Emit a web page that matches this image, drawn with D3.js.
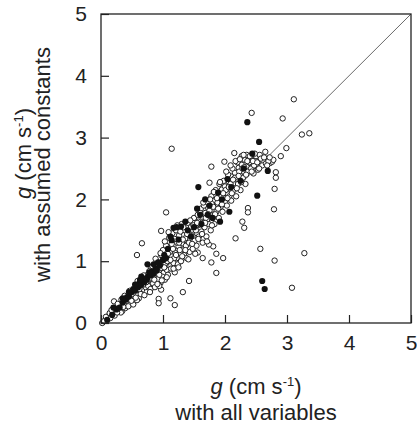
<!DOCTYPE html>
<html>
<head>
<meta charset="utf-8">
<script src="https://cdn.jsdelivr.net/npm/d3@7"></script>
<style>
  body { margin: 0; background: #fff; }
  text { font-family: "Liberation Sans", Arial, sans-serif; fill: #222; }
</style>
</head>
<body>
<script>
const width = 417;
const height = 430;
const margin = {top:14, right:6, bottom:107, left:101};

// axis ticks
const xTicks = [0, 1, 2, 3, 4, 5];
const yTicks = [0, 1, 2, 3, 4, 5];

// open circles: [with all variables, with assumed constants]
const openPoints = [
  [3.11,3.62],[2.93,3.31],[3.24,3.05],[3.36,3.07],[2.43,3.40],[1.14,2.82],[2.99,2.83],[2.90,2.70],
  [2.82,2.44],[2.82,2.35],[2.80,2.17],[2.79,1.84],[2.57,1.20],[2.80,1.01],[3.28,1.13],[3.08,0.57],
  [2.37,1.86],[2.37,1.79],[2.28,1.64],[2.31,1.54],[2.17,1.37],[1.99,2.61],[1.78,2.53],[1.75,2.27],
  [2.15,2.75],[1.05,1.79],[0.97,1.49],[0.66,1.29],[0.58,1.10],[1.97,1.05],[1.86,1.12],[1.81,1.24],
  [1.74,1.27],[1.64,1.05],[1.78,0.98],[1.86,0.81],[1.56,1.14],[1.42,0.68],[1.32,0.50],[1.12,0.40],
  [1.19,0.29],[0.93,0.39],[0.93,0.32],[0.21,0.35],
  [0.02,0.00],[0.09,0.06],[0.12,0.11],[0.19,0.13],[0.23,0.19],[0.28,0.24],[0.34,0.19],[0.37,0.30],
  [0.39,0.24],[0.43,0.35],[0.47,0.30],[0.50,0.40],[0.53,0.35],[0.57,0.46],[0.61,0.40],[0.63,0.51],
  [0.66,0.59],[0.69,0.54],[0.71,0.65],[0.74,0.51],[0.77,0.70],[0.79,0.62],[0.82,0.73],[0.85,0.81],
  [0.88,0.67],[0.90,0.75],[0.93,0.84],[0.96,0.65],[0.97,0.54],[0.98,0.89],[1.01,0.81],[1.04,0.97],
  [1.06,0.86],[1.09,1.02],[1.12,0.92],[1.14,1.08],[1.17,0.97],[1.20,1.13],[1.22,1.05],[1.25,1.24],
  [1.28,1.13],[1.31,1.29],[1.33,1.19],[1.36,1.37],[1.39,1.27],[1.41,1.45],[1.44,1.35],[1.47,1.51],
  [1.49,1.40],[1.52,1.56],[1.55,1.45],[1.57,1.64],[1.60,1.51],[1.63,1.72],[1.65,1.62],[1.68,1.78],
  [1.71,1.67],[1.73,1.86],[1.76,1.75],[1.79,1.94],[1.82,1.83],[1.84,1.99],[1.87,1.89],[1.90,2.07],
  [1.92,1.97],[1.95,2.16],[1.98,2.05],[2.00,2.21],[2.03,2.10],[2.06,2.29],[2.08,2.18],[2.11,2.37],
  [2.14,2.26],[2.16,2.43],[2.19,2.32],[2.22,2.51],[2.24,2.40],[2.27,2.56],[2.30,2.45],[2.32,2.64],
  [2.35,2.53],[2.38,2.69],[2.41,2.59],[2.46,2.42],[2.49,2.64],[2.51,2.53],[2.54,2.69],[2.57,2.59],
  [2.62,2.61],[2.65,2.77],[2.73,2.59],[2.76,2.61],[2.78,2.64],
  [0.05,0.03],[0.15,0.08],[0.22,0.12],[0.30,0.28],[0.32,0.17],[0.41,0.38],[0.44,0.27],[0.48,0.45],
  [0.52,0.30],[0.55,0.52],[0.58,0.37],[0.60,0.60],[0.64,0.47],[0.67,0.70],[0.70,0.45],[0.72,0.58],
  [0.75,0.78],[0.76,0.60],[0.80,0.55],[0.81,0.88],[0.84,0.64],[0.86,0.93],[0.87,0.58],[0.89,0.80],
  [0.90,1.00],[0.92,0.71],[0.94,0.60],[0.95,0.95],[0.97,1.10],[0.99,0.75],[1.00,1.18],[1.02,0.90],
  [1.03,0.70],[1.05,1.25],[1.07,1.00],[1.08,0.78],[1.10,1.38],[1.11,1.15],[1.13,0.88],[1.15,1.45],
  [1.16,1.20],[1.18,1.05],[1.19,0.82],[1.21,1.50],[1.23,1.30],[1.24,0.95],[1.26,1.42],[1.27,1.18],
  [1.29,1.00],[1.30,1.60],[1.32,1.35],[1.34,1.10],[1.35,1.50],[1.37,1.25],[1.38,1.05],[1.40,1.62],
  [1.42,1.30],[1.43,1.15],[1.45,1.55],[1.46,1.40],[1.48,1.20],[1.50,1.70],[1.51,1.33],[1.53,1.50],
  [1.54,1.25],[1.56,1.75],[1.58,1.40],[1.59,1.60],[1.61,1.85],[1.62,1.48],[1.64,1.30],[1.66,1.90],
  [1.67,1.55],[1.69,1.70],[1.70,1.40],[1.72,1.95],[1.74,1.60],[1.75,1.82],[1.77,1.50],[1.78,2.05],
  [1.80,1.70],[1.81,1.88],[1.83,1.60],[1.85,2.15],[1.86,1.80],[1.88,1.95],[1.90,1.70],[1.91,2.25],
  [1.93,1.88],[1.94,2.05],[1.96,1.80],[1.98,2.30],[2.00,1.95],[2.01,2.15],[2.03,1.90],[2.05,2.40],
  [2.07,2.05],[2.09,2.25],[2.10,1.98],[2.12,2.50],[2.14,2.15],[2.16,2.35],[2.18,2.05],[2.20,2.60],
  [2.21,2.25],[2.23,2.45],[2.25,2.15],[2.27,2.70],[2.29,2.35],[2.31,2.52],[2.33,2.25],[2.35,2.72],
  [2.37,2.45],[2.39,2.60],[2.42,2.50],[2.44,2.72],[2.47,2.55],[2.50,2.70],[2.53,2.48],[2.56,2.72],
  [2.60,2.55],[2.66,2.58],[2.70,2.62],
  [0.08,0.10],[0.14,0.16],[0.17,0.21],[0.26,0.17],[0.27,0.31],[0.33,0.38],[0.36,0.26],[0.38,0.44],
  [0.46,0.52],[0.49,0.36],[0.51,0.47],[0.56,0.41],[0.59,0.68],[0.62,0.55],[0.68,0.62],[0.69,0.77],
  [0.73,0.66],[0.78,0.84],[0.79,0.50],[0.83,0.92],[0.86,0.70],[0.88,1.04],[0.91,0.63],[0.94,0.78],
  [0.96,1.13],[0.98,0.69],[1.01,1.02],[1.03,1.32],[1.06,0.74],[1.08,1.12],[1.09,1.47],[1.12,1.02],
  [1.14,1.28],[1.17,0.88],[1.19,1.36],[1.21,1.10],[1.23,1.58],[1.25,0.90],[1.26,1.30],[1.28,1.48],
  [1.31,1.08],[1.33,1.55],[1.36,1.18],[1.39,1.44],[1.41,1.03],[1.44,1.66],[1.47,1.28],[1.49,1.58],
  [1.52,1.12],[1.55,1.62],[1.57,1.36],[1.60,1.78],[1.63,1.44],[1.65,1.95],[1.68,1.62],[1.71,1.32],
  [1.73,1.76],[1.76,2.00],[1.79,1.58],[1.82,2.12],[1.84,1.76],[1.87,2.02],[1.89,1.85],[1.92,2.28],
  [1.95,1.92],[1.97,2.10],[2.02,2.45],[2.04,2.02],[2.06,2.20],[2.09,2.55],[2.11,2.10],[2.13,2.32],
  [2.17,2.62],[2.19,2.18],[2.22,2.38],[2.24,2.65],[2.26,2.28],[2.28,2.50],[2.30,2.72],[2.34,2.40],
  [2.36,2.62],[2.40,2.70],[2.43,2.45],[2.45,2.62],[2.48,2.74],[2.52,2.60],[2.55,2.50],[2.58,2.66],
  [2.63,2.68],[2.68,2.55],[2.72,2.68]
];

// filled circles
const filledPoints = [
  [2.36,3.25],[2.55,2.93],[2.44,2.74],[2.69,2.46],[2.52,2.06],[1.57,2.20],[1.68,2.00],[1.55,1.85],
  [2.60,0.68],[2.64,0.55],[2.04,2.33],[1.89,2.11],[1.36,1.64],[1.29,1.56],[1.17,1.54],[1.14,1.34],
  [2.07,1.80],[1.92,1.64],[2.25,2.30],[1.22,1.55],[1.12,1.40],[1.45,1.40],[1.50,1.55],[1.62,1.60],
  [1.72,1.75],[1.80,1.70],
  [0.10,0.05],[0.18,0.13],[0.25,0.22],[0.30,0.25],[0.35,0.33],[0.40,0.38],[0.42,0.42],[0.45,0.43],
  [0.50,0.50],[0.52,0.55],[0.55,0.53],[0.58,0.60],[0.60,0.58],[0.62,0.65],[0.65,0.62],[0.67,0.68],
  [0.70,0.66],[0.72,0.72],[0.74,0.70],[0.76,0.76],[0.80,0.77],[0.82,0.83],[0.85,0.80],[0.88,0.88],
  [0.90,0.85],[0.95,0.93],[1.00,1.02],[1.05,1.05],[0.75,0.95],[0.85,0.95],[0.65,0.75],[0.45,0.50],
  [1.02,1.10],[1.08,1.20],[1.25,1.35],[1.40,1.50],[1.60,1.75],[1.75,1.90],[1.95,2.00],[2.10,2.20],
  [2.30,2.50],[0.55,0.62],[0.68,0.72],[0.78,0.82],[0.63,0.70],[0.92,0.98],[0.35,0.40],[0.20,0.25]
];

const svg = d3.select("body").append("svg")
  .attr("width", width)
  .attr("height", height);

const x = d3.scaleLinear().domain([0,5]).range([margin.left, width-margin.right]);
const y = d3.scaleLinear().domain([0,5]).range([height-margin.bottom, margin.top]);

// 1:1 line
svg.append("line")
  .attr("x1", x(0)).attr("y1", y(0))
  .attr("x2", x(5)).attr("y2", y(5))
  .attr("stroke", "#444")
  .attr("stroke-width", 0.8);

svg.append("g")
  .selectAll("circle")
  .data(openPoints)
  .join("circle")
  .attr("cx", d=>x(d[0]))
  .attr("cy", d=>y(d[1]))
  .attr("r", 2.7)
  .attr("fill", "#fff")
  .attr("stroke", "#222")
  .attr("stroke-width", 1);

svg.append("g")
  .selectAll("circle")
  .data(filledPoints)
  .join("circle")
  .attr("cx", d=>x(d[0]))
  .attr("cy", d=>y(d[1]))
  .attr("r", 3.1)
  .attr("fill", "#111");

// axes, ticks pointing inward
const xAxis = svg.append("g")
  .attr("transform", `translate(0,${y(0)})`)
  .call(d3.axisBottom(x).tickValues(xTicks).tickSize(-8).tickPadding(12).tickFormat(d3.format("d")));
const yAxis = svg.append("g")
  .attr("transform", `translate(${x(0)},0)`)
  .call(d3.axisLeft(y).tickValues(yTicks).tickSize(-8).tickPadding(14).tickFormat(d3.format("d")));

[xAxis, yAxis].forEach(a => {
  a.select(".domain").remove();
  a.selectAll("line").attr("stroke", "#222").attr("stroke-width", 1.2);
  a.selectAll("text")
    .style("font-family", "'Liberation Sans', Arial, sans-serif")
    .style("font-size", "21px")
    .attr("fill", "#222");
});

// frame
svg.append("rect")
  .attr("x", x(0)).attr("y", y(5))
  .attr("width", x(5)-x(0)).attr("height", y(0)-y(5))
  .attr("fill", "none")
  .attr("stroke", "#222")
  .attr("stroke-width", 1.3);

function unitLabel(sel) {
  sel.append("tspan").attr("font-style", "italic").text("g");
  sel.append("tspan").text(" (cm s");
  sel.append("tspan").attr("font-size", "13px").attr("dy", "-8").text("-1");
  sel.append("tspan").attr("dy", "8").text(")");
}

const cx = (x(0)+x(5))/2;
svg.append("text")
  .attr("x", cx).attr("y", 394)
  .attr("text-anchor", "middle")
  .attr("font-size", "22px")
  .call(unitLabel);
svg.append("text")
  .attr("x", cx).attr("y", 420)
  .attr("text-anchor", "middle")
  .attr("font-size", "22px")
  .text("with all variables");

const cy = (y(0)+y(5))/2;
svg.append("text")
  .attr("transform", `translate(31,${cy-15}) rotate(-90)`)
  .attr("text-anchor", "middle")
  .attr("font-size", "22px")
  .call(unitLabel);
svg.append("text")
  .attr("transform", `translate(50,${cy-4}) rotate(-90)`)
  .attr("text-anchor", "middle")
  .attr("font-size", "22px")
  .text("with assumed constants");
</script>
</body>
</html>
